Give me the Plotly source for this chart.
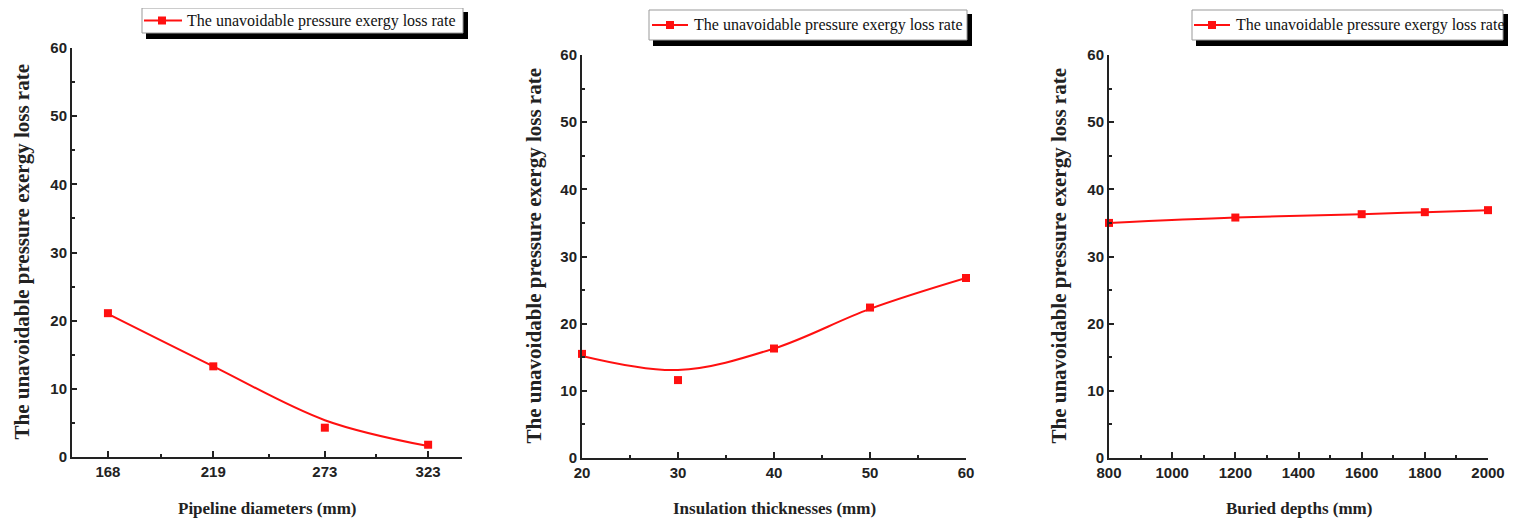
import plotly.graph_objects as go

# page body has an 8px margin; draw the figure so that it lands on the window pixels
OFF = 8
WIN_W, WIN_H = 1520, 525
W, H = WIN_W - OFF, WIN_H - OFF

# ---- data ----
diam_x = [168, 219, 273, 323]
diam_pts = [21.1, 13.3, 4.3, 1.8]
diam_fit = [21.0, 13.3, 5.4, 1.6]
diam_ticks = [168, 219, 273, 323]
diam_minor = [193.5, 246, 298]

ins_x = [20, 30, 40, 50, 60]
ins_pts = [15.5, 11.6, 16.3, 22.4, 26.8]
ins_fit = [15.2, 13.1, 16.3, 22.2, 26.8]

dep_x = [800, 1200, 1600, 1800, 2000]
dep_pts = [35.0, 35.8, 36.3, 36.6, 36.9]

legend_text = "The unavoidable pressure exergy loss rate"
y_title = "The unavoidable pressure exergy loss rate"
x_titles = ["Pipeline diameters (mm)", "Insulation thicknesses (mm)", "Buried depths (mm)"]

RED = "#ff1010"

def px(x):
    return (x - OFF) / W

def py(y):
    return 1 - (y - OFF) / H

fig = go.Figure()

# panel geometry (window pixels)
panels = [
    dict(x0=72, x1=462, y0=48, y1=457),
    dict(x0=582, x1=966, y0=55, y1=458),
    dict(x0=1109, x1=1488, y0=55, y1=458),
]

series = [
    (diam_x, diam_pts, diam_fit),
    (ins_x, ins_pts, ins_fit),
    (dep_x, dep_pts, dep_pts),
]

for i, (xs, pts, fit) in enumerate(series):
    xa = "x" if i == 0 else f"x{i+1}"
    ya = "y" if i == 0 else f"y{i+1}"
    fig.add_trace(go.Scatter(x=xs, y=fit, mode="lines", line=dict(color=RED, width=2, shape="spline", smoothing=1.0),
                             xaxis=xa, yaxis=ya, showlegend=False, hoverinfo="skip", cliponaxis=False))
    fig.add_trace(go.Scatter(x=xs, y=pts, mode="markers", marker=dict(color=RED, symbol="square", size=8),
                             xaxis=xa, yaxis=ya, showlegend=False, cliponaxis=False))

tickfont = dict(family="Liberation Sans Narrow, Liberation Sans", size=15, color="#222", weight="bold")
common_x = dict(showline=True, linecolor="#222", linewidth=2, ticks="inside", ticklen=6, tickwidth=1.5,
                tickcolor="#222", showgrid=False, zeroline=False, tickfont=tickfont, mirror=False,
                automargin=False)
common_y = dict(showline=True, linecolor="#222", linewidth=2, ticks="inside", ticklen=5, tickwidth=1.5,
                tickcolor="#222", showgrid=False, zeroline=False, tickfont=tickfont, range=[0, 60],
                tickmode="linear", tick0=0, dtick=10, automargin=False,
                minor=dict(ticks="inside", ticklen=3, tickcolor="#222", dtick=5, tick0=0, showgrid=False))

lay = {}
for i, p in enumerate(panels):
    xk = "xaxis" if i == 0 else f"xaxis{i+1}"
    yk = "yaxis" if i == 0 else f"yaxis{i+1}"
    ax = dict(common_x)
    ax["domain"] = [px(p["x0"]), px(p["x1"])]
    ax["anchor"] = "y" if i == 0 else f"y{i+1}"
    ay = dict(common_y)
    ay["domain"] = [py(p["y1"]), py(p["y0"])]
    ay["anchor"] = "x" if i == 0 else f"x{i+1}"
    lay[xk] = ax
    lay[yk] = ay

# x axis specifics
lay["xaxis"].update(range=[150.6, 339.4], tickmode="array", tickvals=diam_ticks,
                    minor=dict(ticks="inside", ticklen=3, tickcolor="#222", tickmode="array", tickvals=diam_minor))
lay["xaxis2"].update(range=[20, 60], tickmode="linear", tick0=20, dtick=10,
                     minor=dict(ticks="inside", ticklen=3, tickcolor="#222", dtick=5))
lay["xaxis3"].update(range=[800, 2000], tickmode="linear", tick0=800, dtick=200,
                     minor=dict(ticks="inside", ticklen=3, tickcolor="#222", dtick=100))

fig.update_layout(**lay)

annotations = []
shapes = []
ytitle_x = [21, 533, 1058]
for i, p in enumerate(panels):
    cx = (p["x0"] + p["x1"]) / 2
    cy = (p["y0"] + p["y1"]) / 2
    annotations.append(dict(x=px(cx), y=py(508), xref="paper", yref="paper", text=x_titles[i], showarrow=False,
                            font=dict(family="Liberation Serif", size=17, color="#222", weight="bold"),
                            xanchor="center", yanchor="middle"))
    annotations.append(dict(x=px(ytitle_x[i]), y=py(cy), xref="paper", yref="paper", text=y_title, showarrow=False,
                            textangle=-90, borderpad=0,
                            font=dict(family="Liberation Serif", size=21, color="#222", weight="bold"),
                            xanchor="center", yanchor="middle"))

# legends (box, shadow, sample, text)
legends = [
    dict(bx0=142, bx1=463, by0=8, by1=33, lx0=144, lx1=182, mx=162, tx=185),
    dict(bx0=649, bx1=967, by0=10, by1=40, lx0=652, lx1=688, mx=670, tx=692),
    dict(bx0=1192, bx1=1503, by0=10, by1=40, lx0=1194, lx1=1230, mx=1212, tx=1234),
]
for L in legends:
    shapes.append(dict(type="rect", xref="paper", yref="paper", x0=px(L["bx0"] + 4), x1=px(L["bx1"] + 5),
                       y0=py(L["by1"] + 6), y1=py(L["by0"] + 4), fillcolor="#000", line=dict(width=0), layer="above"))
    shapes.append(dict(type="rect", xref="paper", yref="paper", x0=px(L["bx0"]), x1=px(L["bx1"]),
                       y0=py(L["by1"]), y1=py(L["by0"]), fillcolor="#fff", line=dict(color="#999", width=1), layer="above"))
    ym = (L["by0"] + L["by1"]) / 2
    shapes.append(dict(type="line", xref="paper", yref="paper", x0=px(L["lx0"]), x1=px(L["lx1"]),
                       y0=py(ym), y1=py(ym), line=dict(color=RED, width=2), layer="above"))
    shapes.append(dict(type="rect", xref="paper", yref="paper", x0=px(L["mx"] - 4), x1=px(L["mx"] + 4),
                       y0=py(ym + 4), y1=py(ym - 4), fillcolor=RED, line=dict(width=0), layer="above"))
    annotations.append(dict(x=px(L["tx"]), y=py(ym), xref="paper", yref="paper", text=legend_text, showarrow=False,
                            font=dict(family="Liberation Serif", size=16, color="#111"),
                            xanchor="left", yanchor="middle"))

fig.update_layout(width=W, height=H, margin=dict(l=0, r=0, t=0, b=0, autoexpand=False),
                  paper_bgcolor="white", plot_bgcolor="white",
                  annotations=annotations, shapes=shapes, showlegend=False)

fig.write_html("out.html")
